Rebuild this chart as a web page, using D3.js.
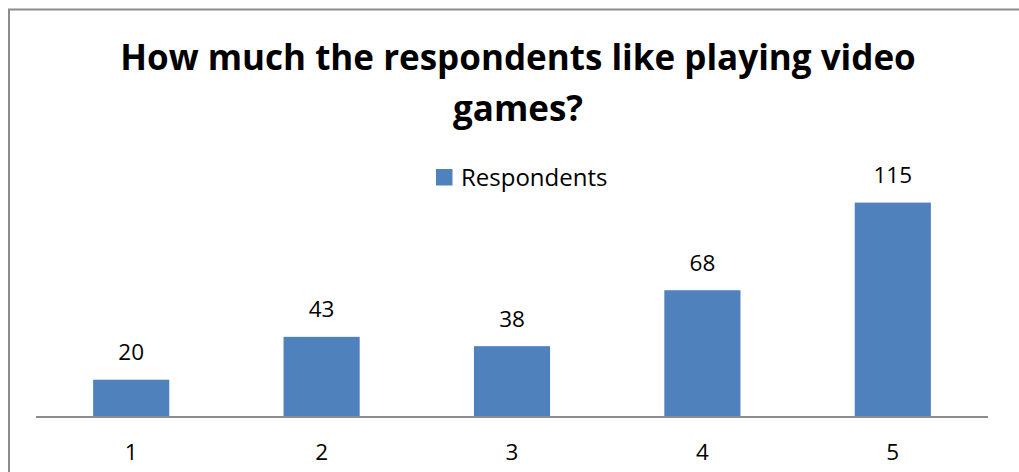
<!DOCTYPE html>
<html>
<head>
<meta charset="utf-8">
<script src="https://cdn.jsdelivr.net/npm/d3@7"></script>
<style>
  html, body { margin: 0; padding: 0; background: #fff; overflow: hidden; }
  svg { display: block; }
</style>
</head>
<body>
<svg id="chart" width="1019" height="472"></svg>
<script>
// Survey answers on a 1–5 scale and how many respondents chose each
const categories = ["1", "2", "3", "4", "5"];
const respondents = [20, 43, 38, 68, 115];
const seriesName = "Respondents";
const titleLines = ["How much the respondents like playing video", "games?"];

const width = 1019, height = 472;
const svg = d3.select("#chart");
const font = "'Open Sans', 'Liberation Sans', sans-serif";
const barColor = "#4f81bd";

// outer frame: left and top edges (the rest lies outside the view)
svg.append("path")
  .attr("d", `M9,${height + 10}V9.5H${width + 10}`)
  .attr("fill", "none")
  .attr("stroke", "#8c8c8c")
  .attr("stroke-width", 2);

// title
svg.append("g").selectAll("text")
  .data(titleLines)
  .join("text")
  .attr("x", 518)
  .attr("y", (d, i) => 69.5 + i * 51.5)
  .attr("text-anchor", "middle")
  .attr("font-family", font)
  .attr("font-weight", "bold")
  .attr("font-size", 35)
  .attr("fill", "#000")
  .text(d => d);

const margin = { left: 36, right: 31 };
const x = d3.scaleBand()
  .domain(categories)
  .range([margin.left, width - margin.right])
  .paddingInner(0.6)
  .paddingOuter(0.3);

const y = d3.scaleLinear()
  .domain([0, 140])
  .range([417, 156]);

// bars
svg.append("g").selectAll("rect")
  .data(respondents)
  .join("rect")
  .attr("x", (d, i) => x(categories[i]))
  .attr("y", d => y(d))
  .attr("width", x.bandwidth())
  .attr("height", d => y(0) - y(d))
  .attr("fill", barColor);

// value labels
svg.append("g").selectAll("text")
  .data(respondents)
  .join("text")
  .attr("x", (d, i) => x(categories[i]) + x.bandwidth() / 2)
  .attr("y", d => y(d) - 19.5)
  .attr("text-anchor", "middle")
  .attr("font-family", font)
  .attr("font-size", 22.5)
  .attr("fill", "#000")
  .text(d => d);

// category axis
const axis = svg.append("g")
  .attr("transform", `translate(0,${y(0)})`)
  .call(d3.axisBottom(x).tickSize(0).tickPadding(27));
axis.select(".domain")
  .attr("d", `M${margin.left},0H${width - margin.right}`)
  .attr("stroke", "#8c8c8c")
  .attr("stroke-width", 2);
axis.selectAll("text")
  .attr("font-family", font)
  .attr("font-size", 22.5)
  .attr("fill", "#000");

// legend
const legend = svg.append("g").attr("transform", "translate(436,169)");
legend.append("rect")
  .attr("width", 16.5).attr("height", 16.5)
  .attr("fill", barColor);
legend.append("text")
  .attr("x", 25).attr("y", 16.5)
  .attr("font-family", font)
  .attr("font-size", 24)
  .attr("fill", "#000")
  .text(seriesName);
</script>
</body>
</html>
